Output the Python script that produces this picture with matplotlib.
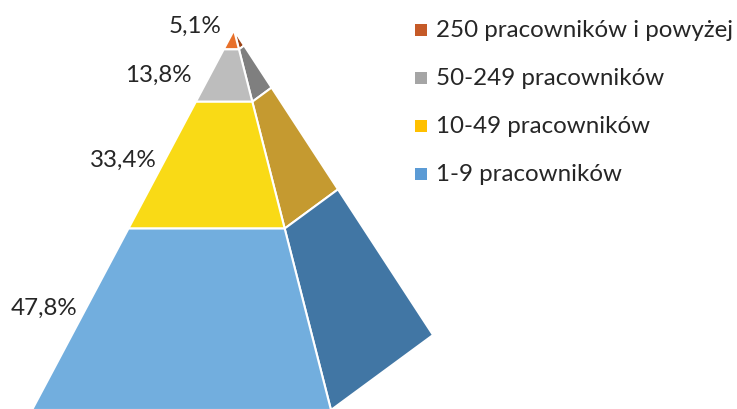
import numpy as np
import matplotlib
matplotlib.use('Agg')
import matplotlib.pyplot as plt
from matplotlib.patches import Polygon, Rectangle

# data, top of the pyramid first
labels = ['250 pracowników i powyżej', '50-249 pracowników', '10-49 pracowników', '1-9 pracowników']
shares = [5.1, 13.8, 33.4, 47.8]
value_labels = ['5,1%', '13,8%', '33,4%', '47,8%']

front_colors = ['#E8702A', '#BDBDBD', '#F9DA16', '#72AEDE']
side_colors = ['#9C4316', '#7F7F7F', '#C59A30', '#4176A4']
legend_colors = ['#C55A28', '#A5A5A5', '#FFC000', '#5B9BD5']

plt.rcParams['font.family'] = ['Lato', 'DejaVu Sans']

fig = plt.figure(figsize=(7.37, 4.10), dpi=100)
ax = fig.add_axes([0, 0, 1, 1])
ax.set_xlim(0, 737)
ax.set_ylim(410, 0)
ax.axis('off')

# projected pyramid corners (pixel space)
apex = np.array([234.0, 31.0])
front_left = np.array([32.0, 411.0])
front_right = np.array([331.0, 411.0])
back_right = np.array([433.0, 336.0])

def along(corner, t):
    return apex + t * (corner - apex)

cum = np.cumsum([0] + shares)
cum = cum / cum[-1]

for i in range(len(shares)):
    t0, t1 = cum[i], cum[i + 1]
    front = [along(front_left, t0), along(front_right, t0),
             along(front_right, t1), along(front_left, t1)]
    side = [along(front_right, t0), along(back_right, t0),
            along(back_right, t1), along(front_right, t1)]
    ax.add_patch(Polygon(side, closed=True, facecolor=side_colors[i],
                         edgecolor='white', linewidth=1.5, joinstyle='round'))
    ax.add_patch(Polygon(front, closed=True, facecolor=front_colors[i],
                         edgecolor='white', linewidth=1.5, joinstyle='round'))

# value labels to the left of each segment (offset from the edge midpoint)
label_offsets = [(-7, -8), (-18, 5), (-5, 1), (-3, -5)]
for i, lab in enumerate(value_labels):
    tm = (cum[i] + cum[i + 1]) / 2
    p = along(front_left, tm)
    dx, dy = label_offsets[i]
    ax.text(p[0] + dx, p[1] + dy, lab, ha='right', va='baseline',
            fontsize=17.4, color='#262626')

# legend
baselines = [37, 85, 133, 181]
for lab, col, y in zip(labels, legend_colors, baselines):
    ax.add_patch(Rectangle((415, y - 12), 12, 12, facecolor=col, edgecolor='none'))
    ax.text(436, y, lab, ha='left', va='baseline', fontsize=17.4, color='#262626')

fig.savefig('out.png', dpi=100)
